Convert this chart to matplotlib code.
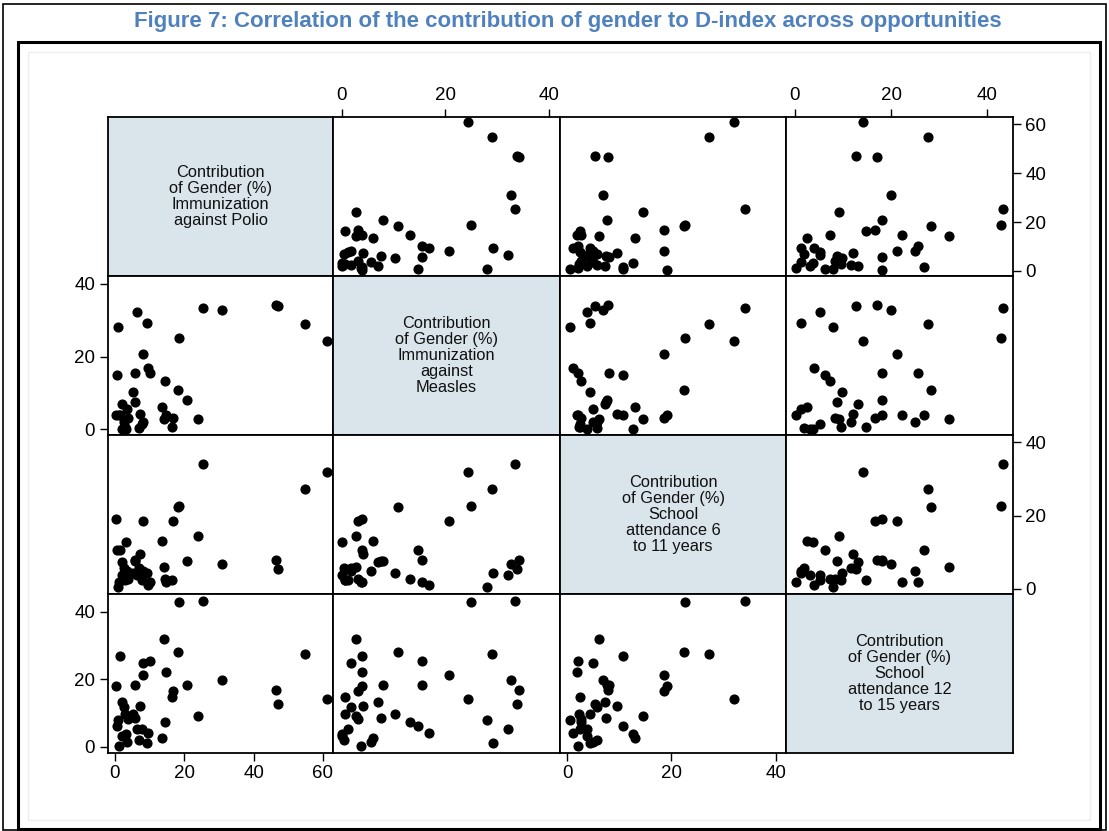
import matplotlib
matplotlib.use('Agg')
from matplotlib import pyplot as plt
from matplotlib.patches import Rectangle

# Contribution of gender (%) to the D-index, one value per country
polio = [61.1, 54.7, 46.6, 46.9, 31.0, 25.4, 23.9, 20.7, 18.6, 18.2,
         16.6, 16.5, 14.8, 14.5, 14.2, 13.6,
         0.4, 0.6, 0.8, 1.2, 1.5, 2.0, 1.9, 2.5, 3.0, 3.3, 3.5, 3.9,
         5.2, 5.7, 5.9, 6.4, 6.9, 7.2, 7.8, 8.0, 8.1, 9.3, 9.4, 10.2]
measles = [24.4, 29.0, 34.3, 33.9, 32.7, 33.5, 2.7, 8.0, 25.1, 10.9,
           3.2, 0.6, 3.9, 13.3, 2.7, 6.1,
           3.9, 14.8, 28.1, 3.8, 3.9, 7.0, 0.0, 1.9, 0.7, 0.1, 5.7, 3.2,
           10.3, 15.5, 7.6, 32.2, 0.4, 4.1, 1.3, 20.7, 1.9, 29.3, 16.8, 15.6]
school_6_11 = [32.0, 27.3, 7.9, 5.4, 6.9, 34.1, 14.5, 7.7, 22.6, 22.4,
               18.6, 2.5, 1.8, 2.7, 6.1, 13.0,
               19.1, 10.7, 0.5, 2.0, 10.7, 7.2, 3.7, 5.7, 2.3, 12.7, 4.9, 2.7,
               4.3, 8.0, 7.5, 3.8, 5.7, 9.5, 2.4, 18.6, 4.9, 4.4, 1.1, 2.0]
school_12_15 = [14.2, 27.6, 17.0, 12.7, 19.9, 43.2, 9.1, 18.2, 42.8, 28.2,
                16.7, 14.8, 22.2, 7.3, 32.0, 2.6,
                18.1, 6.2, 7.9, 0.2, 26.9, 13.2, 3.2, 11.7, 9.7, 3.7, 1.4, 8.4,
                9.9, 18.2, 8.7, 5.2, 2.0, 12.1, 5.2, 21.2, 24.9, 1.3, 4.1, 25.6]

labels = ['Contribution\nof Gender (%)\nImmunization\nagainst Polio',
          'Contribution\nof Gender (%)\nImmunization\nagainst\nMeasles',
          'Contribution\nof Gender (%)\nSchool\nattendance 6\nto 11 years',
          'Contribution\nof Gender (%)\nSchool\nattendance 12\nto 15 years']
ticks = [[0, 20, 40, 60], [0, 20, 40], [0, 20, 40], [0, 20, 40]]
limits = [(-2.1, 63.0), (-1.6, 42.2), (-1.4, 42.0), (-1.8, 45.3)]

variables = [polio, measles, school_6_11, school_12_15]

plt.rcParams['font.family'] = ['Liberation Sans', 'DejaVu Sans']

W, H = 1109, 831
fig = plt.figure(figsize=(W / 100, H / 100), dpi=100)

# marcos exteriores
fig.patches.append(Rectangle((3 / W, 1 - 830 / H), 1103 / W, 826 / H,
                             transform=fig.transFigure, fill=False,
                             edgecolor='black', lw=1.2))
fig.patches.append(Rectangle((18 / W, 1 - 829 / H), 1082 / W, 787 / H,
                             transform=fig.transFigure, fill=False,
                             edgecolor='black', lw=2.2))
fig.patches.append(Rectangle((28 / W, 1 - 820 / H), 1062 / W, 768 / H,
                             transform=fig.transFigure, fill=False,
                             edgecolor='#eeeeee', lw=1))

fig.text(0.512, 1 - 22 / H,
         'Figure 7: Correlation of the contribution of gender to D-index across opportunities',
         ha='center', va='center', fontsize=16, fontweight='bold',
         color='#4f81bd')

# bordes de las celdas en pixeles
xs = [107.7, 333.3, 560, 786, 1013]
ys = [117, 276, 435, 594, 753]

for i in range(4):
    for j in range(4):
        left = xs[j] / W
        bottom = 1 - ys[i + 1] / H
        ax = fig.add_axes([left, bottom, (xs[j + 1] - xs[j]) / W,
                           (ys[i + 1] - ys[i]) / H])
        for s in ax.spines.values():
            s.set_linewidth(1.3)
        ax.set_xlim(limits[j])
        ax.set_ylim(limits[i])
        ax.set_xticks([])
        ax.set_yticks([])
        if i == j:
            ax.set_facecolor('#d9e4eb')
            ax.text(0.5, 0.5, labels[i], ha='center', va='center',
                    fontsize=11.8, linespacing=1.1, transform=ax.transAxes,
                    color='#111111')
        else:
            ax.plot(variables[j], variables[i], 'o', color='black',
                    ms=6.3, mec='black', clip_on=False)

        # ejes alternados como en graph matrix
        if i == 0 and j in (1, 3):
            ax.xaxis.tick_top()
            ax.set_xticks(ticks[j])
        if i == 3 and j in (0, 2):
            ax.set_xticks(ticks[j])
        if j == 0 and i in (1, 3):
            ax.set_yticks(ticks[i])
        if j == 3 and i in (0, 2):
            ax.yaxis.tick_right()
            ax.set_yticks(ticks[i])
        ax.tick_params(direction='out', length=6, width=1,
                       labelsize=13.5, pad=3)

fig.savefig('out.png', dpi=100)
